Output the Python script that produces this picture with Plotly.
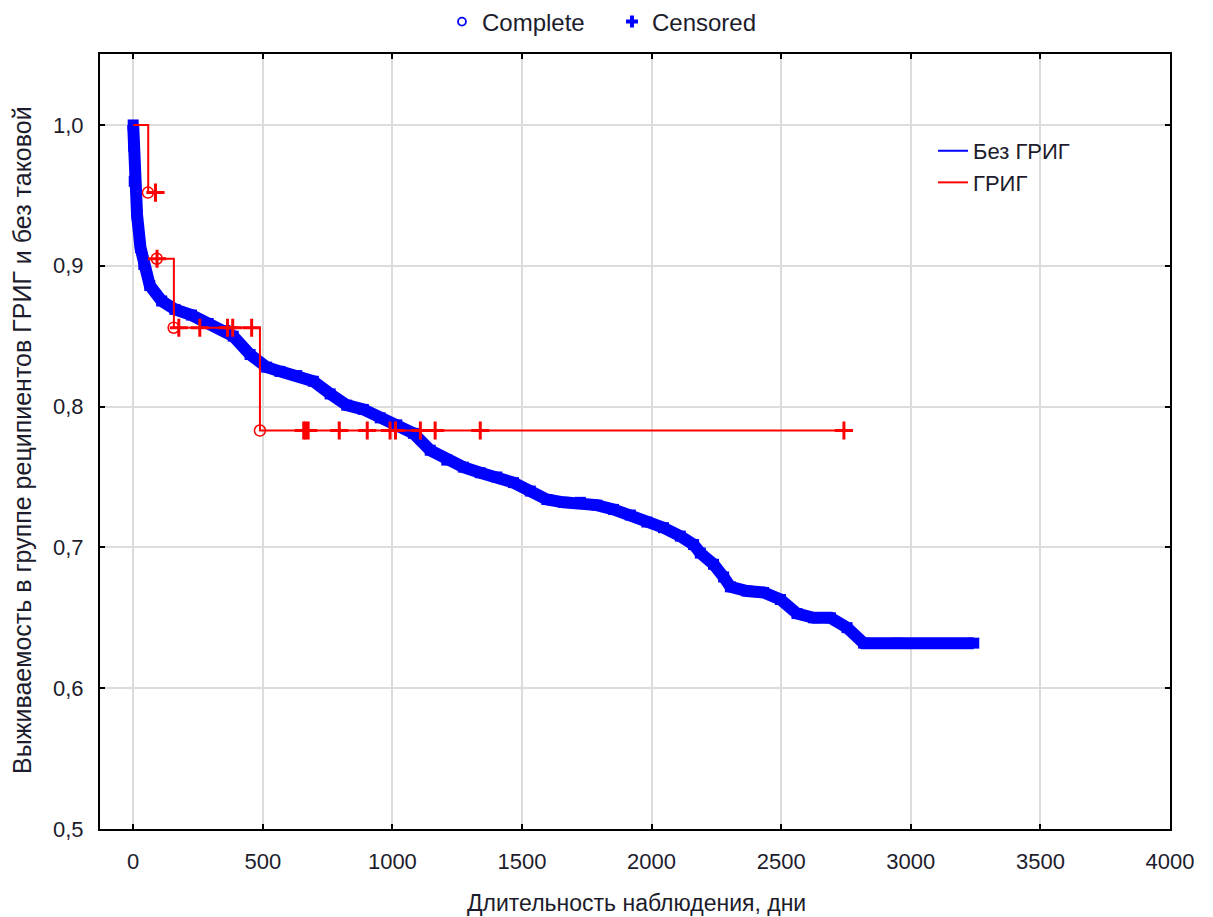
import plotly.graph_objects as go

# ---------------- data ----------------
# Без ГРИГ : Kaplan-Meier curve (time in days, survival)
blue_t = [0, 2, 4, 15, 28, 41, 64, 110, 161, 225, 289, 354, 386, 451, 515, 566,
          631, 695, 760, 824, 888, 953, 1017, 1081, 1146, 1210, 1274, 1339, 1403,
          1467, 1532, 1596, 1660, 1725, 1789, 1853, 1918, 1982, 2046, 2111, 2162,
          2188, 2239, 2278, 2304, 2368, 2432, 2497, 2561, 2625, 2690, 2754, 2818,
          2947, 3243]
blue_s = [1.0, 0.985, 0.960, 0.936, 0.913, 0.901, 0.886, 0.875, 0.869, 0.865,
          0.859, 0.854, 0.850, 0.837, 0.828, 0.825, 0.822, 0.818, 0.809, 0.801,
          0.798, 0.792, 0.787, 0.781, 0.769, 0.762, 0.757, 0.753, 0.750, 0.746,
          0.740, 0.734, 0.732, 0.732, 0.730, 0.727, 0.723, 0.718, 0.714, 0.708,
          0.702, 0.696, 0.688, 0.679, 0.672, 0.669, 0.668, 0.663, 0.653, 0.650,
          0.650, 0.643, 0.632, 0.632, 0.632]

# ГРИГ : step curve (None separates the two drawn pieces)
red_t = [0, 58, 88, None, 91, 157, 489, 2742]
red_s = [1.0, 0.952, 0.952, None, 0.905, 0.856, 0.783, 0.783]

# ГРИГ : complete (event) marks
red_complete_t = [57, 91, 156, 489]
red_complete_s = [0.952, 0.905, 0.856, 0.783]

# ГРИГ : censored marks
red_cens_t = [86, 92, 176, 257, 364, 384, 457,
              658, 665, 675, 795, 903, 991, 1012, 1108, 1165, 1339, 2742]
red_cens_s = [0.952, 0.905, 0.856, 0.856, 0.856, 0.856, 0.856,
              0.783, 0.783, 0.783, 0.783, 0.783, 0.783, 0.783, 0.783, 0.783,
              0.783, 0.783]

x_ticks = [0, 500, 1000, 1500, 2000, 2500, 3000, 3500, 4000]
y_ticks = [0.5, 0.6, 0.7, 0.8, 0.9, 1.0]
y_ticktext = ["0,5", "0,6", "0,7", "0,8", "0,9", "1,0"]

BLUE = "#0000ff"
RED = "#ff0000"
TXT = "#1c1c2c"
FONT = "Liberation Sans, Arial, sans-serif"

fig = go.Figure()

# thin blue line for the legend
fig.add_trace(go.Scatter(x=blue_t, y=blue_s, mode="lines", name="Без ГРИГ",
                         line=dict(color=BLUE, width=2), legend="legend"))
# dense marker band
fig.add_trace(go.Scatter(x=blue_t, y=blue_s, mode="lines+markers", showlegend=False,
                         line=dict(color=BLUE, width=12),
                         marker=dict(color=BLUE, size=11, symbol="square")))
# red step line
fig.add_trace(go.Scatter(x=red_t, y=red_s, mode="lines", name="ГРИГ",
                         line=dict(color=RED, width=2, shape="hv"),
                         connectgaps=False, legend="legend"))
fig.add_trace(go.Scatter(x=red_complete_t, y=red_complete_s, mode="markers",
                         showlegend=False,
                         marker=dict(symbol="circle-open", size=11, color=RED,
                                     line=dict(width=1.5, color=RED))))
fig.add_trace(go.Scatter(x=red_cens_t, y=red_cens_s, mode="markers",
                         showlegend=False,
                         marker=dict(symbol="cross-thin", size=13, color=RED,
                                     line=dict(width=3, color=RED))))

# top legend: marker meaning
fig.add_trace(go.Scatter(x=[None], y=[None], mode="markers", name="Complete",
                         marker=dict(symbol="circle-open", size=8, color=BLUE,
                                     line=dict(width=1.8, color=BLUE)),
                         legend="legend2"))
fig.add_trace(go.Scatter(x=[None], y=[None], mode="markers", name="Censored",
                         marker=dict(symbol="cross", size=10, color=BLUE),
                         legend="legend2"))

axis_common = dict(
    showline=True, linecolor="black", linewidth=2, mirror="ticks",
    ticks="inside", ticklen=5, tickwidth=2, tickcolor="black",
    showgrid=True, gridcolor="#dcdcdc", gridwidth=2, zeroline=False,
    tickfont=dict(family=FONT, size=22, color=TXT),
)

fig.update_xaxes(range=[-128, 4000], tickvals=x_ticks,
                 ticktext=[str(v) for v in x_ticks], ticklabelstandoff=12,
                 **axis_common)
fig.update_yaxes(range=[0.5, 1.0504], tickvals=y_ticks, ticktext=y_ticktext,
                 ticklabelstandoff=10, **axis_common)

fig.update_layout(
    width=1213, height=917,
    margin=dict(l=100, r=43, t=54, b=88, autoexpand=False),
    paper_bgcolor="white", plot_bgcolor="white",
    font=dict(family=FONT, size=22, color=TXT),
    legend=dict(x=0.7785, y=0.902, xanchor="left", yanchor="top",
                bgcolor="rgba(0,0,0,0)", font=dict(size=22, color=TXT),
                tracegroupgap=0),
    legend2=dict(orientation="h", x=0.3196, y=1.0413, xanchor="left",
                 yanchor="middle", entrywidth=125, entrywidthmode="pixels",
                 bgcolor="rgba(0,0,0,0)", font=dict(size=24, color=TXT)),
    annotations=[
        dict(text="Длительность наблюдения, дни", xref="paper", yref="paper",
             x=0.501, y=-0.0955, xanchor="center", yanchor="middle",
             showarrow=False, font=dict(size=23, color=TXT)),
        dict(text="Выживаемость в группе реципиентов ГРИГ и без таковой",
             xref="paper", yref="paper", x=-0.0729, y=0.502, textangle=-90,
             xanchor="center", yanchor="middle", showarrow=False,
             font=dict(size=25, color=TXT)),
    ],
)

fig.write_html("out.html")
